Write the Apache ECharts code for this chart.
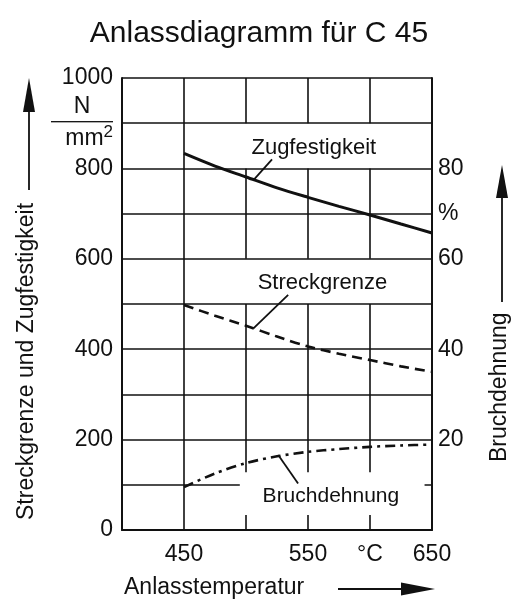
<!DOCTYPE html>
<html><head><meta charset="utf-8">
<script src="https://cdn.jsdelivr.net/npm/echarts@6/dist/echarts.min.js"></script>
<style>html,body{margin:0;padding:0;background:#fff}#c{width:518px;height:603px}</style>
</head><body><div id="c"></div>
<script>
// ---- data ----
const temperatures = [450, 475, 500, 525, 550, 575, 600, 625, 650];
const zugfestigkeit = [833, 805, 781, 757, 736, 716, 697, 677, 657];   // N/mm2
const streckgrenze = [498, 474, 452, 428, 406, 390, 376, 362, 350];    // N/mm2
const bruchdehnung = [9.5, 12.5, 14.8, 16.3, 17.3, 17.9, 18.4, 18.7, 18.9]; // %
const xTickLabels = {450: '450', 550: '550', 600: '°C', 650: '650'};
const leftTickLabels = {0: '0', 200: '200', 400: '400', 600: '600', 800: '800', 1000: '1000'};
const rightTickLabels = {20: '20', 40: '40', 60: '60', 70: '%', 80: '80'};

const FONT = "'Liberation Sans', Arial, Helvetica, sans-serif";
const INK = '#111';
const pairs = arr => temperatures.map((t, i) => [t, arr[i]]);

const chart = echarts.init(document.getElementById('c'), null, {renderer: 'canvas'});
chart.setOption({
  animation: false,
  backgroundColor: '#fff',
  textStyle: {fontFamily: FONT, color: INK},
  title: {
    text: 'Anlassdiagramm für C 45', left: 'center', top: 14,
    textStyle: {fontFamily: FONT, fontSize: 30, fontWeight: 'normal', color: INK}
  },
  grid: {left: 122, right: 86, top: 78, bottom: 73},
  xAxis: {
    type: 'value', min: 400, max: 650, interval: 50, z: 0,
    axisLine: {show: true, lineStyle: {color: INK, width: 2}},
    axisTick: {show: false},
    splitLine: {show: true, lineStyle: {color: INK, width: 1.6}},
    axisLabel: {
      margin: 13, fontSize: 23, color: INK, fontFamily: FONT,
      formatter: v => xTickLabels[v] || ''
    }
  },
  yAxis: [{
    type: 'value', min: 0, max: 1000, interval: 100, z: 3,
    axisLine: {show: true, lineStyle: {color: INK, width: 2}},
    axisTick: {show: false},
    splitLine: {show: true, lineStyle: {color: INK, width: 1.6}},
    axisLabel: {
      margin: 9, fontSize: 23, color: INK, fontFamily: FONT,
      formatter: v => v === 900 ? '{n|N}\n{l|}\n{m|mm}{s|2}' : (leftTickLabels[v] || ''),
      rich: {
        n: {fontSize: 23, width: 56, align: 'center', lineHeight: 27, fontFamily: FONT, color: INK},
        l: {width: 62, height: 0, borderColor: INK, borderWidth: 1, lineHeight: 4},
        m: {fontSize: 23, lineHeight: 30, fontFamily: FONT, color: INK},
        s: {fontSize: 17, verticalAlign: 'top', lineHeight: 30, fontFamily: FONT, color: INK}
      }
    }
  }, {
    type: 'value', min: 0, max: 100, interval: 10, position: 'right', z: 3,
    axisLine: {show: true, lineStyle: {color: INK, width: 2}},
    axisTick: {show: false},
    splitLine: {show: false},
    axisLabel: {
      margin: 6, fontSize: 23, color: INK, fontFamily: FONT,
      formatter: v => rightTickLabels[v] || ''
    }
  }],
  series: [
    { // white masks behind the label rows (hide vertical grid lines)
      type: 'line', data: [], z: 1, silent: true,
      markArea: {
        z: 1, silent: true,
        itemStyle: {color: '#fff', borderWidth: 0},
        data: [
          [{coord: [499, 800]}, {coord: [650, 900]}],
          [{coord: [499, 500]}, {coord: [650, 600]}]
        ]
      }
    },
    { // white mask behind "Bruchdehnung" label (hides grid lines there)
      type: 'line', data: [], z: 4, silent: true,
      markArea: {
        z: 4, silent: true,
        itemStyle: {color: '#fff', borderWidth: 0},
        data: [[{coord: [495, 33]}, {coord: [644, 128]}]]
      }
    },
    {
      name: 'Zugfestigkeit', type: 'line', data: pairs(zugfestigkeit), z: 5,
      smooth: 0.3, symbol: 'none', lineStyle: {color: INK, width: 3}
    },
    {
      name: 'Streckgrenze', type: 'line', data: pairs(streckgrenze), z: 5,
      smooth: 0.3, symbol: 'none', lineStyle: {color: INK, width: 2.6, type: [10, 6]}
    },
    {
      name: 'Bruchdehnung', type: 'line', data: pairs(bruchdehnung), yAxisIndex: 1, z: 5,
      smooth: 0.3, symbol: 'none', lineStyle: {color: INK, width: 2.6, type: [10, 5, 3, 5]}
    },
    { // annotations: leader lines + labels
      type: 'line', data: [], z: 6, silent: true,
      markLine: {
        z: 6, silent: true, symbol: ['none', 'none'],
        lineStyle: {color: INK, width: 1.8, type: 'solid'},
        label: {show: false},
        data: [
          [{coord: [506, 774]}, {coord: [521, 820]}],
          [{coord: [506, 446]}, {coord: [534, 520]}],
          [{coord: [526, 166]}, {coord: [542, 103]}]
        ]
      },
      markPoint: {
        z: 6, silent: true, symbol: 'circle', symbolSize: 1,
        itemStyle: {color: 'rgba(0,0,0,0)'},
        label: {show: true, position: 'right', distance: 0, fontSize: 22, color: INK, fontFamily: FONT,
                formatter: p => p.name},
        data: [
          {name: 'Zugfestigkeit', coord: [504, 846]},
          {name: 'Streckgrenze', coord: [509, 546]},
          {name: 'Bruchdehnung', coord: [513, 75], label: {fontSize: 21}}
        ]
      }
    }
  ],
  graphic: [
    {type: 'text', x: 27, y: 520, rotation: Math.PI / 2,
     style: {text: 'Streckgrenze und Zugfestigkeit', font: "23px " + FONT, fill: INK,
             textAlign: 'left', textVerticalAlign: 'middle'}},
    {type: 'line', shape: {x1: 29, y1: 190, x2: 29, y2: 108}, style: {stroke: INK, lineWidth: 1.8}},
    {type: 'polygon', shape: {points: [[29, 78], [23, 112], [35, 112]]}, style: {fill: INK}},

    {type: 'text', x: 500, y: 462, rotation: Math.PI / 2,
     style: {text: 'Bruchdehnung', font: "23px " + FONT, fill: INK,
             textAlign: 'left', textVerticalAlign: 'middle'}},
    {type: 'line', shape: {x1: 502, y1: 302, x2: 502, y2: 194}, style: {stroke: INK, lineWidth: 1.8}},
    {type: 'polygon', shape: {points: [[502, 165], [496, 198], [508, 198]]}, style: {fill: INK}},

    {type: 'text', x: 124, y: 588,
     style: {text: 'Anlasstemperatur', font: "23px " + FONT, fill: INK,
             textAlign: 'left', textVerticalAlign: 'middle'}},
    {type: 'line', shape: {x1: 338, y1: 589, x2: 406, y2: 589}, style: {stroke: INK, lineWidth: 1.8}},
    {type: 'polygon', shape: {points: [[435, 589], [401, 582.5], [401, 595.5]]}, style: {fill: INK}}
  ]
});
</script></body></html>
